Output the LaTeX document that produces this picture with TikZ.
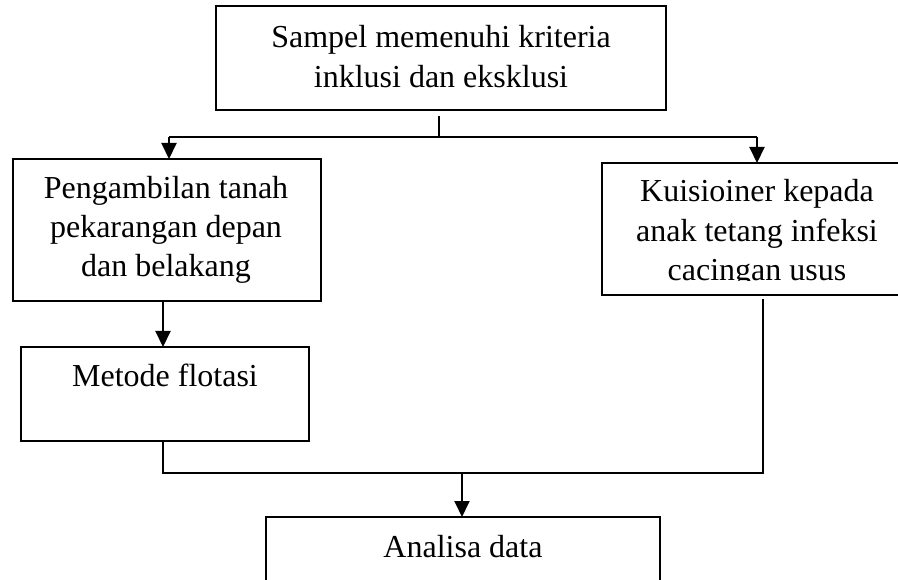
\documentclass[tikz,border=0pt]{standalone}
\usepackage{fontspec}
\setmainfont{Liberation Serif}
\usetikzlibrary{arrows.meta}
\begin{document}
\begin{tikzpicture}[x=1pt,y=-1pt,
  boxst/.style={draw=black, line width=1.9pt, inner sep=0pt, outer sep=0pt},
  txt/.style={inner sep=0pt, anchor=base, font=\fontsize{32}{39.5}\selectfont},
  conn/.style={line width=2pt},
  arr/.style={line width=2pt, -{Triangle[length=16pt,width=15pt]}}]
\useasboundingbox (0,0) rectangle (898,580);
\clip (0,0) rectangle (898,580);
% boxes
\node[boxst, minimum width=450pt, minimum height=104pt] (top) at (441,58) {};
\node[boxst, minimum width=308pt, minimum height=142pt] (soil) at (167,230) {};
\node[boxst, minimum width=288pt, minimum height=94pt] (flot) at (165,394) {};
\node[boxst, minimum width=310pt, minimum height=132pt] (quest) at (757,229) {};
\node[boxst, minimum width=394pt, minimum height=120pt] (anal) at (463,577) {};
% texts
\node[txt] (t1) at (441,48) {Sampel memenuhi kriteria};
\node[txt] (t2) at (441,88) {inklusi dan eksklusi};
\node[txt] (s1) at (166,199) {Pengambilan tanah};
\node[txt] (s2) at (166,238) {pekarangan depan};
\node[txt] (s3) at (166,277) {dan belakang};
\node[txt] (f1) at (165,387) {Metode flotasi};
\node[txt] (q1) at (757,202) {Kuisioiner kepada};
\node[txt] (q2) at (757,242) {anak tetang infeksi};
\begin{scope}
\clip (600,250) rectangle (898,281);
\node[txt] (q3) at (757,281) {cacingan usus};
\end{scope}
\node[txt] (a1) at (463,557) {Analisa data};
% connectors
\coordinate (stub) at (439,116);
\coordinate (split) at (439,137);
\coordinate (lsplit) at (169,137);
\coordinate (rsplit) at (757,137);
\draw[conn] (stub) -- (split);
\draw[conn] (lsplit) -- (rsplit);
\draw[arr] (lsplit) -- (lsplit |- soil.north);
\draw[arr] (rsplit) -- (rsplit |- quest.north);
\draw[arr] (163,301) -- (163,347);
\coordinate (jl) at (163,473);
\coordinate (jr) at (763,473);
\coordinate (jm) at (462,473);
\coordinate (qb) at (763,299);
\draw[conn] (flot.south -| jl) -- (jl) -- (jr) -- (qb);
\draw[arr] (jm) -- (jm |- anal.north);
\end{tikzpicture}
\end{document}
